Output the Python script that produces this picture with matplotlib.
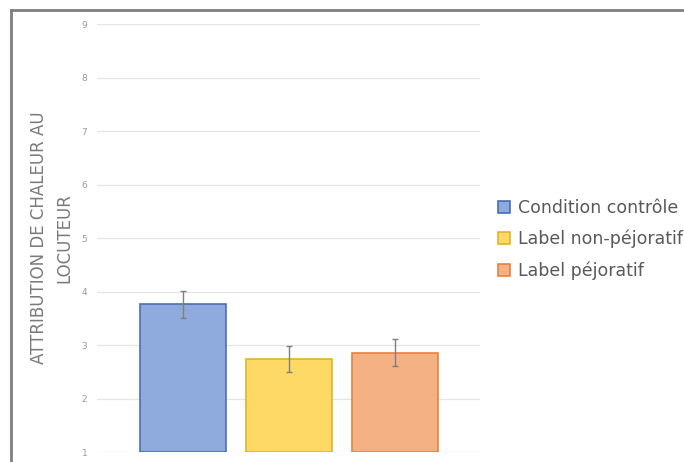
import matplotlib.pyplot as plt
from matplotlib.lines import Line2D

# Data
conditions = ["Condition contrôle", "Label non-péjoratif", "Label péjoratif"]
means = [3.76, 2.74, 2.86]
errors = [0.25, 0.25, 0.25]
yticks = [1, 2, 3, 4, 5, 6, 7, 8, 9]

fills = ["#8FAADC", "#FFD966", "#F4B183"]
edges = ["#4A6FB5", "#E0B32E", "#E58240"]

fig = plt.figure(figsize=(6.84, 4.62), dpi=100)
ax = fig.add_axes([0.1418, 0.0216, 0.56, 0.9264])

x = list(range(len(conditions)))
for i in x:
    ax.bar(i, means[i] - 1, bottom=1, width=0.81, color=fills[i],
           edgecolor=edges[i], linewidth=1.2, label=conditions[i], zorder=2)
ax.errorbar(x, means, yerr=errors, fmt="none", ecolor="#7F7F7F",
            elinewidth=1.0, capsize=2.5, capthick=1.0, zorder=3)

ax.set_xlim(-0.81, 2.8)
ax.set_ylim(1, 9)
ax.set_yticks(yticks)
ax.set_yticklabels([str(t) for t in yticks], fontsize=6.5, color="#9A9A9A")
ax.tick_params(axis="y", length=0, pad=7)
ax.set_xticks([])
ax.grid(axis="y", color="#E4E4E4", linewidth=0.9, zorder=0)
for s in ax.spines.values():
    s.set_visible(False)

ax.set_ylabel("ATTRIBUTION DE CHALEUR AU\nLOCUTEUR", fontsize=12,
              color="#7A7A7A", labelpad=6, linespacing=1.5)

leg = ax.legend(loc="center left", bbox_to_anchor=(1.005, 0.497), frameon=False,
                fontsize=12.5, handlelength=0.7, handleheight=0.7,
                handletextpad=0.45, labelspacing=0.75)
for t in leg.get_texts():
    t.set_color("#595959")

# gray frame around the chart area
fig.add_artist(Line2D([11 / 684, 11 / 684], [0, 1 - 10 / 462],
                      transform=fig.transFigure, color="#7F7F7F", linewidth=2))
fig.add_artist(Line2D([11 / 684, 1], [1 - 10 / 462, 1 - 10 / 462],
                      transform=fig.transFigure, color="#7F7F7F", linewidth=2))

fig.savefig("out.png", dpi=100)
